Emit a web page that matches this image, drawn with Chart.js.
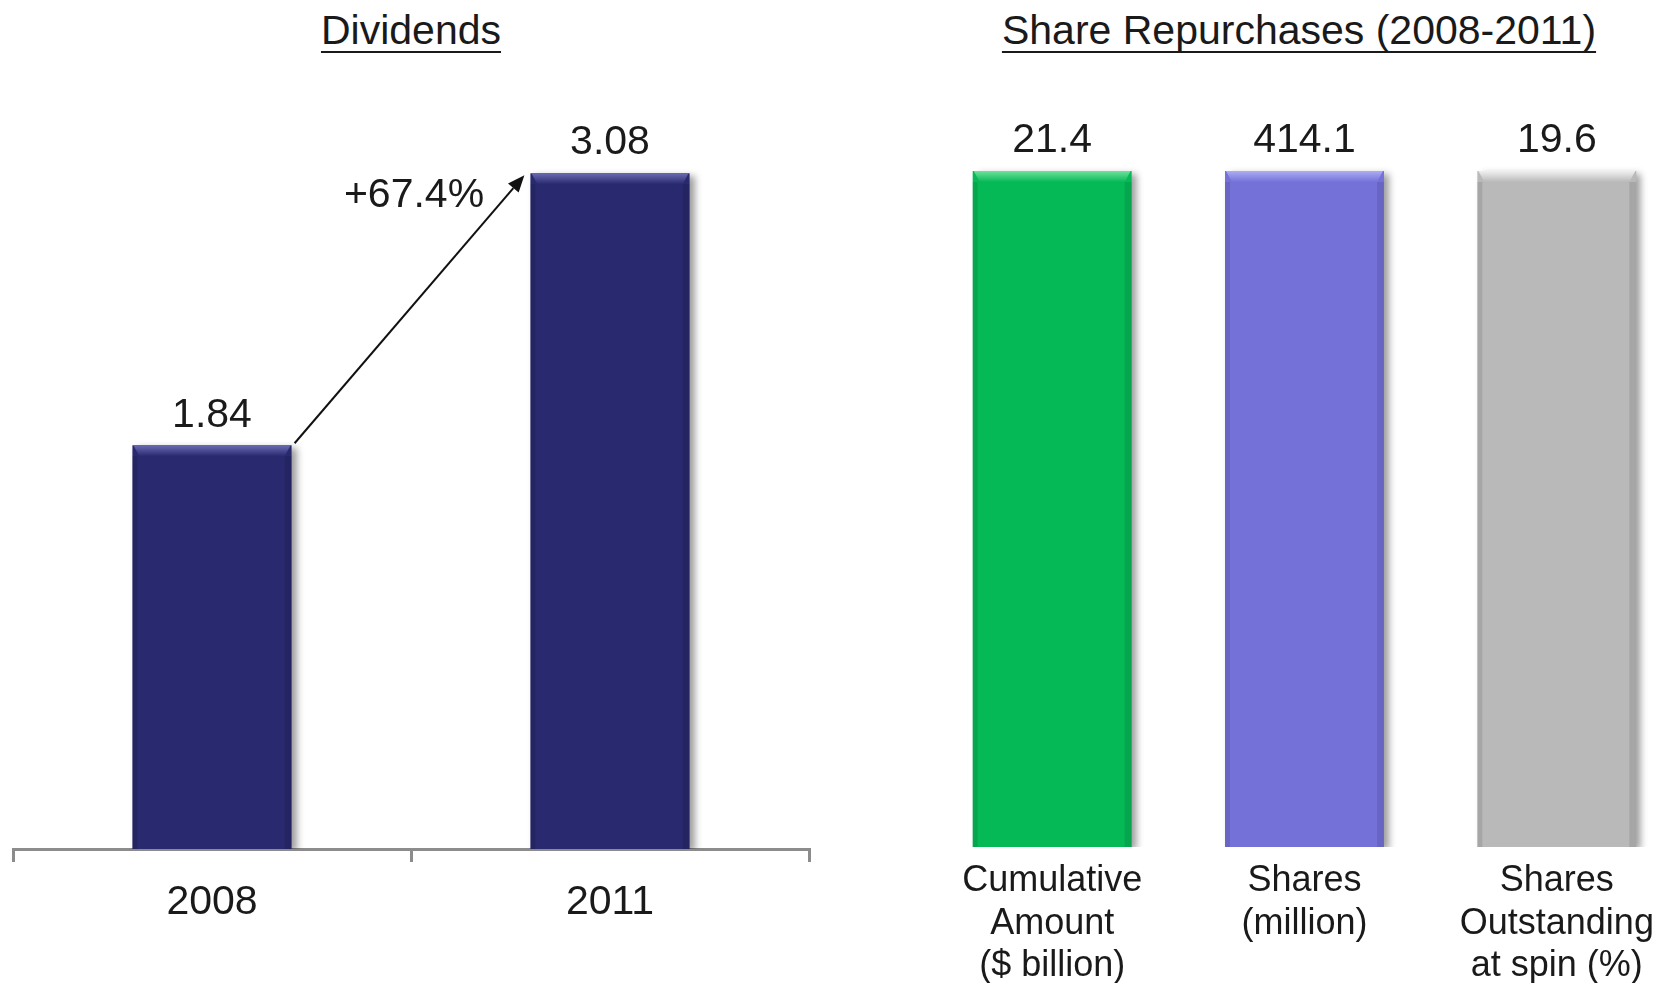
<!DOCTYPE html>
<html>
<head>
<meta charset="utf-8">
<script src="https://cdn.jsdelivr.net/npm/chart.js@4/dist/chart.umd.min.js"></script>
<style>
  html, body { margin: 0; padding: 0; background: #ffffff; overflow: hidden; width: 1664px; height: 983px; }
  .title {
    position: absolute; top: 10px; white-space: nowrap;
    font-family: "Liberation Sans", Arial, sans-serif; font-size: 41px; line-height: 41px;
    color: #1a1a1a; text-decoration: underline; text-decoration-thickness: 2px;
    text-decoration-skip-ink: none; text-underline-offset: 7px; transform: translateX(-50%);
  }
  canvas { position: absolute; top: 0; }
</style>
</head>
<body>
<div class="title" style="left:411px">Dividends</div>
<div class="title" style="left:1299px">Share Repurchases (2008-2011)</div>
<canvas id="dividends" width="830" height="983" style="left:0"></canvas>
<canvas id="buybacks" width="800" height="983" style="left:900px"></canvas>
<script>
// Dividends per share
const divYears = ['2008', '2011'];
const divValues = [1.84, 3.08];
const divGrowthLabel = '+67.4%';

// Share repurchases 2008-2011
const buybackCategories = [
  ['Cumulative', 'Amount', '($ billion)'],
  ['Shares', '(million)'],
  ['Shares', 'Outstanding', 'at spin (%)']
];
const buybackValues = [21.4, 414.1, 19.6];

const FONT = '"Liberation Sans", Arial, sans-serif';
const TEXT = '#1a1a1a';

// soft drop shadow behind the bars, a bevelled top edge and the value above each bar
function barDecor(bevelColors) {
  return {
    id: 'barDecor',
    beforeDatasetsDraw(chart) {
      const ctx = chart.ctx;
      ctx.save();
      ctx.shadowColor = 'rgba(0,0,0,0.38)';
      ctx.shadowBlur = 7;
      ctx.shadowOffsetX = 5;
      ctx.shadowOffsetY = 3;
    },
    afterDatasetsDraw(chart) {
      const ctx = chart.ctx;
      ctx.restore();
      chart.data.datasets.forEach((ds, di) => {
        const meta = chart.getDatasetMeta(di);
        meta.data.forEach((bar, i) => {
          const v = ds.data[i];
          if (v === null || v === undefined) return;
          const left = bar.x - bar.width / 2, right = bar.x + bar.width / 2, top = bar.y;
          const pair = bevelColors(di, i);
          const g = ctx.createLinearGradient(0, top, 0, top + 11);
          g.addColorStop(0, pair[1]);
          g.addColorStop(1, pair[0]);
          ctx.save();
          ctx.fillStyle = g;
          ctx.beginPath();
          ctx.moveTo(left + 1, top);
          ctx.lineTo(right - 1, top);
          ctx.lineTo(right - 7, top + 11);
          ctx.lineTo(left + 7, top + 11);
          ctx.closePath();
          ctx.fill();
          // darker side edges
          ctx.fillStyle = 'rgba(0,0,0,0.10)';
          ctx.fillRect(right - 7, top + 11, 7, bar.base - top - 11);
          ctx.fillRect(left, top + 11, 5, bar.base - top - 11);
          ctx.restore();

          ctx.save();
          ctx.fillStyle = TEXT;
          ctx.font = '41px ' + FONT;
          ctx.textAlign = 'center';
          ctx.textBaseline = 'middle';
          ctx.fillText(String(v), bar.x, top - 30);
          ctx.restore();
        });
      });
    }
  };
}

// growth arrow between the two dividend bars
const growthArrow = {
  id: 'growthArrow',
  afterDraw(chart) {
    const bars = chart.getDatasetMeta(0).data;
    const a = bars[0], b = bars[1];
    const x1 = a.x + a.width / 2 + 3, y1 = a.y - 2;
    const x2 = b.x - b.width / 2 - 6, y2 = b.y + 2;
    const ctx = chart.ctx;
    const ang = Math.atan2(y2 - y1, x2 - x1);
    const head = 17, half = 7;
    ctx.save();
    ctx.strokeStyle = '#111';
    ctx.fillStyle = '#111';
    ctx.lineWidth = 2;
    ctx.beginPath();
    ctx.moveTo(x1, y1);
    ctx.lineTo(x2 - Math.cos(ang) * head, y2 - Math.sin(ang) * head);
    ctx.stroke();
    ctx.beginPath();
    ctx.moveTo(x2, y2);
    ctx.lineTo(x2 - Math.cos(ang) * head - Math.sin(ang) * half, y2 - Math.sin(ang) * head + Math.cos(ang) * half);
    ctx.lineTo(x2 - Math.cos(ang) * head + Math.sin(ang) * half, y2 - Math.sin(ang) * head - Math.cos(ang) * half);
    ctx.closePath();
    ctx.fill();
    ctx.font = '41px ' + FONT;
    ctx.fillStyle = TEXT;
    ctx.textAlign = 'center';
    ctx.textBaseline = 'middle';
    ctx.fillText(divGrowthLabel, 414, 196);
    ctx.restore();
  }
};

const navy = '#29296f';
new Chart(document.getElementById('dividends'), {
  type: 'bar',
  data: {
    labels: divYears,
    datasets: [{ data: divValues, backgroundColor: navy, borderWidth: 0,
                 barPercentage: 0.4, categoryPercentage: 1 }]
  },
  options: {
    responsive: false,
    animation: false,
    events: [],
    layout: { padding: { left: 13, right: 21, top: 81, bottom: 0 } },
    plugins: { legend: { display: false }, tooltip: { enabled: false } },
    scales: {
      y: { display: false, min: 0, max: 3.5 },
      x: {
        afterFit(scale) { scale.height = 134; },
        border: { display: true, color: '#8c8c8c', width: 3 },
        grid: { offset: true, drawOnChartArea: false, drawTicks: true, tickLength: 13,
                color: '#8c8c8c', lineWidth: 3 },
        ticks: { color: TEXT, padding: 16, font: { family: FONT, size: 41, lineHeight: 1.2 } }
      }
    }
  },
  plugins: [barDecor(() => [navy, '#6b6bb4']), growthArrow]
});

// each repurchase measure has its own unit, so each bar gets its own value axis
const buyColors = ['#06b957', '#7472d9', '#b9b9b9'];
const buyBevels = ['#6fe29c', '#adacf2', '#f0f0f0'];
const barFill = 0.8825;
const buyScales = {
  x: {
    afterFit(scale) { scale.height = 136; },
    border: { display: false },
    grid: { display: false, drawTicks: false },
    ticks: { color: TEXT, padding: 13, font: { family: FONT, size: 36, lineHeight: 1.18 } }
  }
};
buybackValues.forEach((v, i) => {
  buyScales['y' + i] = { display: false, min: 0, max: v / barFill };
});

new Chart(document.getElementById('buybacks'), {
  type: 'bar',
  data: {
    labels: buybackCategories,
    datasets: buybackValues.map((v, i) => ({
      data: buybackValues.map((w, j) => (j === i ? w : null)),
      yAxisID: 'y' + i,
      backgroundColor: buyColors[i],
      borderWidth: 0,
      barPercentage: 0.63,
      categoryPercentage: 1,
      grouped: false
    }))
  },
  options: {
    responsive: false,
    animation: false,
    events: [],
    layout: { padding: { left: 26, right: 17, top: 81, bottom: 0 } },
    plugins: { legend: { display: false }, tooltip: { enabled: false } },
    scales: buyScales
  },
  plugins: [barDecor((di) => [buyColors[di], buyBevels[di]])]
});
</script>
</body>
</html>
